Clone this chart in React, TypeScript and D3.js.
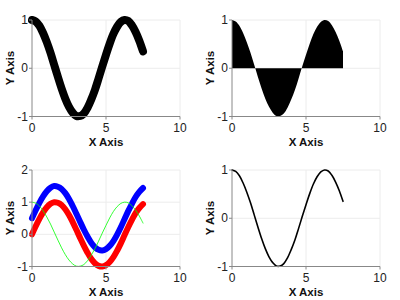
import React from "react";
import * as d3 from "d3";

const xs = [0, 0.25, 0.5, 0.75, 1, 1.25, 1.5, 1.75, 2, 2.25, 2.5, 2.75, 3, 3.25, 3.5, 3.75, 4, 4.25, 4.5, 4.75, 5, 5.25, 5.5, 5.75, 6, 6.25, 6.5, 6.75, 7, 7.25, 7.5];
const cosVals = [1.0, 0.97, 0.88, 0.73, 0.54, 0.32, 0.07, -0.18, -0.42, -0.63, -0.8, -0.92, -0.99, -0.99, -0.94, -0.82, -0.65, -0.45, -0.21, 0.04, 0.28, 0.51, 0.71, 0.86, 0.96, 1.0, 0.98, 0.89, 0.75, 0.57, 0.35];
const sinVals = [0, 0.25, 0.48, 0.68, 0.84, 0.95, 1.0, 0.98, 0.91, 0.78, 0.6, 0.38, 0.14, -0.11, -0.35, -0.57, -0.76, -0.9, -0.98, -1.0, -0.96, -0.86, -0.71, -0.51, -0.28, -0.03, 0.22, 0.45, 0.66, 0.82, 0.94];
const sinShiftVals = [0.5, 0.75, 0.98, 1.18, 1.34, 1.45, 1.5, 1.48, 1.41, 1.28, 1.1, 0.88, 0.64, 0.39, 0.15, -0.07, -0.26, -0.4, -0.48, -0.5, -0.46, -0.36, -0.21, -0.01, 0.22, 0.47, 0.72, 0.95, 1.16, 1.32, 1.44];
const xTicks = [0, 5, 10];
const yTicksA = [-1, 0, 1];
const yTicksB = [-1, 0, 1, 2];

type Series = { vals: number[]; color: string; width: number; kind: "line" | "area" };

const FONT = "'Liberation Sans', Arial, sans-serif";

function Panel({ ox, oy, yDomain, yTicks, series }: { ox: number; oy: number; yDomain: [number, number]; yTicks: number[]; series: Series[] }) {
  const x = d3.scaleLinear().domain([0, 10]).range([32, 180]);
  const y = d3.scaleLinear().domain(yDomain).range([116.5, 20]);
  const pts = (vals: number[]) => xs.map((v, i) => [v, vals[i]] as [number, number]);
  const line = d3.line<[number, number]>().x(d => x(d[0])).y(d => y(d[1])).curve(d3.curveCatmullRom);
  const area = d3.area<[number, number]>().x(d => x(d[0])).y0(y(0)).y1(d => y(d[1])).curve(d3.curveCatmullRom);
  return (
    <g transform={`translate(${ox},${oy})`}>
      {xTicks.filter(t => t !== 0).map(t => (
        <line key={"gx" + t} x1={x(t)} x2={x(t)} y1={y(yDomain[0])} y2={y(yDomain[1])} stroke="#ececec" strokeWidth={1} />
      ))}
      {yTicks.filter(t => t !== yDomain[0]).map(t => (
        <line key={"gy" + t} x1={x(0)} x2={x(10)} y1={y(t)} y2={y(t)} stroke="#ececec" strokeWidth={1} />
      ))}
      {series.map((s, i) =>
        s.kind === "area" ? (
          <path key={i} d={area(pts(s.vals)) || ""} fill={s.color} stroke="none" />
        ) : (
          <path key={i} d={line(pts(s.vals)) || ""} fill="none" stroke={s.color} strokeWidth={s.width} strokeLinecap="round" strokeLinejoin="round" />
        )
      )}
      <line x1={x(0)} x2={x(0)} y1={y(yDomain[0])} y2={y(yDomain[1])} stroke="#888" strokeWidth={1} />
      <line x1={x(0)} x2={x(10)} y1={y(yDomain[0])} y2={y(yDomain[0])} stroke="#888" strokeWidth={1} />
      {xTicks.map(t => (
        <g key={"tx" + t}>
          <line x1={x(t)} x2={x(t)} y1={y(yDomain[0])} y2={y(yDomain[0]) + 3} stroke="#888" />
          <text x={x(t)} y={132} textAnchor="middle" fontFamily={FONT} fontSize={12} fill="#222">{t}</text>
        </g>
      ))}
      {yTicks.map(t => (
        <g key={"ty" + t}>
          <line x1={x(0) - 3} x2={x(0)} y1={y(t)} y2={y(t)} stroke="#888" />
          <text x={x(0) - 4} y={y(t) + 4} textAnchor="end" fontFamily={FONT} fontSize={12} fill="#222">{t}</text>
        </g>
      ))}
      <text x={106} y={146} textAnchor="middle" fontFamily={FONT} fontSize={11.5} fontWeight="bold" fill="#111">X Axis</text>
      <text transform={`translate(14,${68}) rotate(-90)`} textAnchor="middle" fontFamily={FONT} fontSize={11.5} fontWeight="bold" fill="#111">Y Axis</text>
    </g>
  );
}

export default function App() {
  return (
    <svg width={400} height={300} style={{ position: "absolute", left: 0, top: 0, background: "#fff" }}>
      <rect width={400} height={300} fill="#fff" />
      <Panel ox={0} oy={0} yDomain={[-1, 1]} yTicks={yTicksA} series={[{ vals: cosVals, color: "#000", width: 8, kind: "line" }]} />
      <Panel ox={200} oy={0} yDomain={[-1, 1]} yTicks={yTicksA} series={[{ vals: cosVals, color: "#000", width: 1, kind: "area" }]} />
      <Panel ox={0} oy={150} yDomain={[-1, 2]} yTicks={yTicksB} series={[
        { vals: sinVals, color: "#ff0000", width: 6, kind: "line" },
        { vals: sinShiftVals, color: "#0000ff", width: 6, kind: "line" },
        { vals: cosVals, color: "#00ff00", width: 0.8, kind: "line" },
      ]} />
      <Panel ox={200} oy={150} yDomain={[-1, 1]} yTicks={yTicksA} series={[{ vals: cosVals, color: "#000", width: 1.6, kind: "line" }]} />
    </svg>
  );
}
